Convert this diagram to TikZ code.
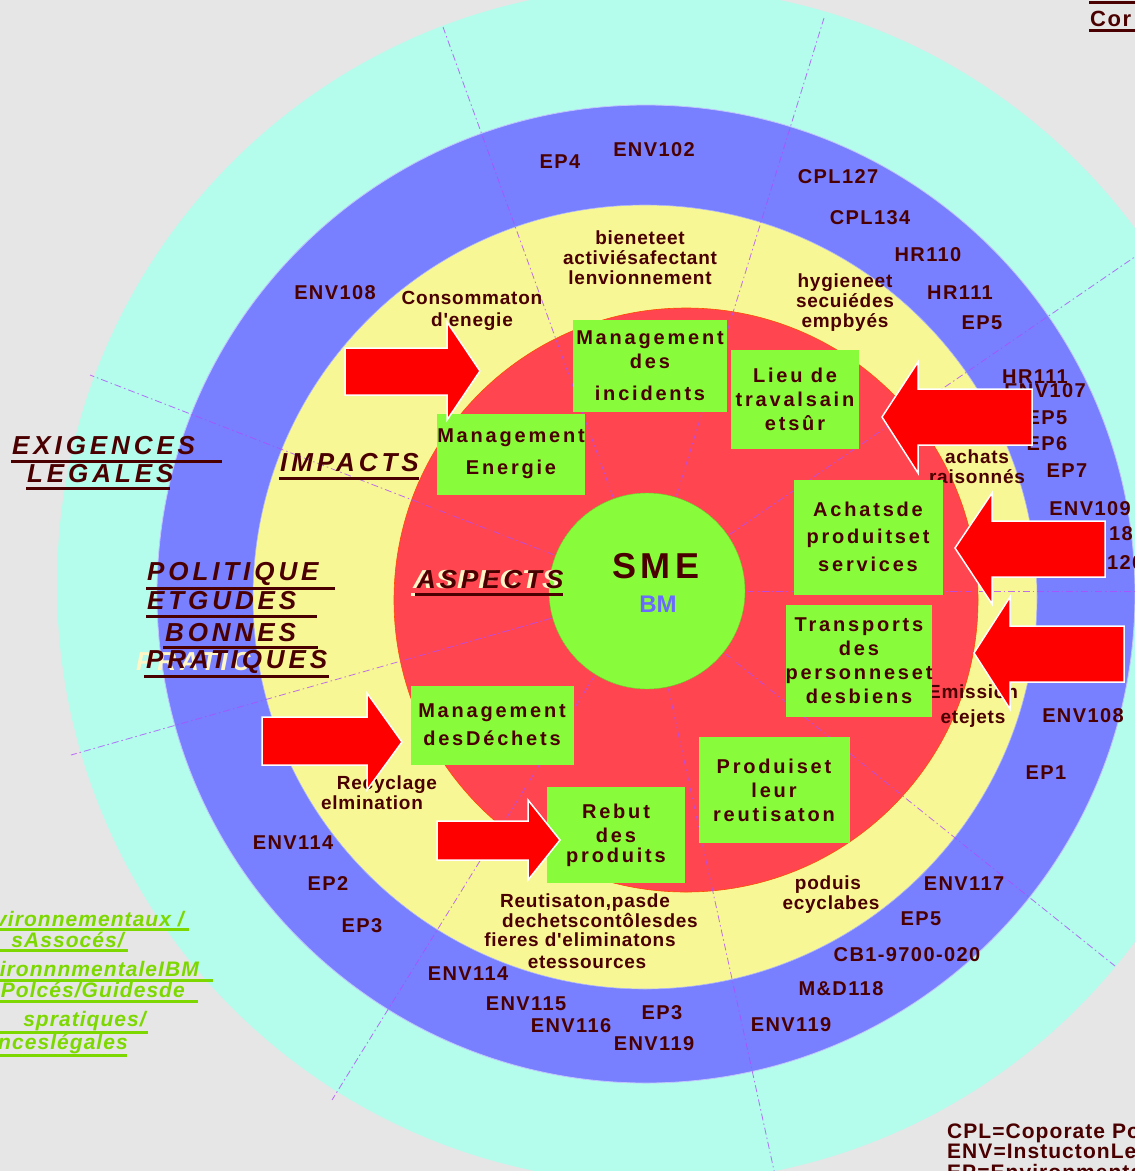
\documentclass[tikz,border=0pt]{standalone}
\usepackage{fontspec}
\setmainfont{Liberation Sans}
\newfontfamily\gbfont[LetterSpace=14]{Liberation Sans}
\newfontfamily\ttlfont[LetterSpace=15]{Liberation Sans}
\newfontfamily\lgfont[LetterSpace=5]{Liberation Sans}
\newfontfamily\lblfont[LetterSpace=7]{Liberation Sans}
\newfontfamily\smefont[LetterSpace=12]{Liberation Sans}
\newfontfamily\ytfont[LetterSpace=4]{Liberation Sans}
\usetikzlibrary{calc}
\definecolor{bgc}{HTML}{E6E6E6}
\definecolor{cyanr}{HTML}{B4FCEB}
\definecolor{bluer}{HTML}{7880FF}
\definecolor{yellr}{HTML}{F7F795}
\definecolor{redr}{HTML}{FF4650}
\definecolor{grn}{HTML}{88FC3A}
\definecolor{maroon}{HTML}{4A0000}
\definecolor{bmblue}{HTML}{6A6AFF}
\definecolor{lgrn}{HTML}{7CD800}
\definecolor{radc}{HTML}{B04CFF}
\definecolor{arr}{HTML}{FF0000}
\definecolor{cream}{HTML}{FFF6C8}
\tikzset{
 lbl/.style={font=\lblfont\bfseries\fontsize{20}{22}\selectfont, text=maroon, inner sep=0pt},
 ytx/.style={font=\ytfont\bfseries\fontsize{19}{20}\selectfont, text=maroon, inner sep=0pt, align=center},
 gbox/.style={fill=grn, draw=none, text=maroon, align=center, inner sep=0pt, font=\gbfont\bfseries\fontsize{20}{24}\selectfont},
 ttl/.style={font=\ttlfont\bfseries\itshape\fontsize{26}{28}\selectfont, text=maroon, inner sep=0pt, anchor=west},
 uline/.style={maroon, line width=3pt},
 blk/.style={fill=arr, draw=white, line width=1.5pt, line join=miter},
 radl/.style={radc, line width=0.8pt, dash pattern=on 7pt off 3pt on 1.5pt off 3pt, opacity=0.8},
 lgt/.style={font=\lgfont\bfseries\itshape\fontsize{21}{22}\selectfont, text=lgrn, inner sep=0pt, anchor=east},
 lgl/.style={lgrn, line width=3pt},
 leg/.style={font=\lgfont\bfseries\fontsize{21}{22}\selectfont, text=maroon, inner sep=0pt, anchor=west},
}
\begin{document}
\begin{tikzpicture}[x=1pt,y=-1pt]
\useasboundingbox (0,0) rectangle (1135,1171);
\clip (0,0) rectangle (1135,1171);
\fill[bgc] (0,0) rectangle (1135,1171);
% rings
\fill[cyanr] (655,585) circle[radius=598];
\filldraw[fill=bluer, draw=white!55!bluer, line width=0.8pt] (646,594) circle[radius=489];
\filldraw[fill=yellr, draw=white!40!bluer, line width=0.6pt] (645,597) circle[radius=392];
\filldraw[fill=redr, draw=orange!60!red, line width=0.6pt] (686,600) circle[radius=292];
% radial dividers
\coordinate (c) at (647,591);
\foreach \px/\py in {443/27,824/18,1142/252,1140/591,1115/966,775/1175,332/1100,71/755,90/375}
  \draw[radl] ($(c)!100pt!(\px,\py)$) -- (\px,\py);
% centre
\node[circle, fill=grn, draw=grn!80!black, line width=0.4pt, minimum size=196pt, inner sep=0pt] (sme) at (647,591) {};
\node[font=\smefont\bfseries\fontsize{36}{38}\selectfont, text=maroon, inner sep=0pt] (smet) at (656,566) {SME};
\node[font=\bfseries\fontsize{24}{26}\selectfont, text=bmblue, inner sep=0pt] (bm) at (658,604) {BM};

% blue ring labels
\node[lbl] (l1) at (560,162) {EP4};
\node[lbl] (l2) at (654,150) {ENV102};
\node[lbl] (l3) at (838,177) {CPL127};
\node[lbl] (l4) at (870,218) {CPL134};
\node[lbl] (l5) at (928,255) {HR110};
\node[lbl] (l6) at (960,293) {HR111};
\node[lbl] (l7) at (982,323) {EP5};
\node[lbl] (l8) at (1035,377) {HR111};
\node[lbl] (l9) at (1045,391) {ENV107};
\node[lbl] (l10) at (1047,418) {EP5};
\node[lbl] (l11) at (1047,444) {EP6};
\node[lbl] (l12) at (1067,471) {EP7};
\node[lbl] (l13) at (1090,509) {ENV109};
\node[lbl, anchor=west] (l14) at (1109,534) {18};
\node[lbl, anchor=west] (l15) at (1107,563) {120};
\node[lbl] (l16) at (1083,716) {ENV108};
\node[lbl] (l17) at (1046,773) {EP1};
\node[lbl] (l18) at (964,884) {ENV117};
\node[lbl] (l19) at (921,919) {EP5};
\node[lbl] (l20) at (907,955) {CB1-9700-020};
\node[lbl] (l21) at (841,989) {M\&D118};
\node[lbl] (l22) at (791,1025) {ENV119};
\node[lbl] (l23) at (662,1013) {EP3};
\node[lbl] (l24) at (654,1044) {ENV119};
\node[lbl] (l25) at (571,1026) {ENV116};
\node[lbl] (l26) at (526,1004) {ENV115};
\node[lbl] (l27) at (468,974) {ENV114};
\node[lbl] (l28) at (362,926) {EP3};
\node[lbl] (l29) at (328,884) {EP2};
\node[lbl] (l30) at (293,843) {ENV114};
\node[lbl] (l31) at (335,293) {ENV108};

% yellow ring texts
\node[ytx] (y1) at (640,258) {bieneteet\\activiésafectant\\lenvionnement};
\node[ytx] (y2) at (472,311) {Consommaton\\[2pt]d'enegie};
\node[ytx] (y3) at (845,303) {hygieneet\\secuiédes\\empbyés};
\node[ytx] (y4) at (977,467) {achats\\raisonnés};
\node[ytx] (y5) at (973,706) {Emission\\[5pt]etejets};
\node[ytx] (y6) at (387,785) {Recyclage};
\node[ytx] (y7) at (372,803) {elmination};
\node[ytx] (y8) at (585,903) {Reutisaton,pasde};
\node[ytx] (y9) at (600,920) {dechetscontôlesdes};
\node[ytx] (y10) at (580,940) {fieres d'eliminatons};
\node[ytx] (y11) at (587,962) {etessources};
\node[ytx] (y12) at (828,885) {poduis};
\node[ytx] (y13) at (831,905) {ecyclabes};

% green boxes
\node[gbox, minimum width=154pt, minimum height=92pt] (b1) at (650,366) {Management\\des\\[8pt]incidents};
\node[gbox, minimum width=128pt, minimum height=99pt] (b2) at (795,399) {Lieu de\\travalsain\\etsûr};
\node[gbox, minimum width=140pt, minimum height=81pt] (b3) at (511,454) {Management\\[8pt]Energie};
\node[gbox, minimum width=149pt, minimum height=115pt] (b4) at (868,537) {Achatsde\\[3pt]produitset\\[4pt]services};
\node[gbox, minimum width=128pt, minimum height=112pt] (b5) at (859,661) {Transports\\des\\personneset\\desbiens};
\node[gbox, minimum width=163pt, minimum height=79pt] (b6) at (492,725) {Management\\[4pt]desDéchets};
\node[gbox, minimum width=138pt, minimum height=96pt] (b7) at (616,835) {Rebut\\des\\[-4pt]produits};
\node[gbox, minimum width=151pt, minimum height=106pt] (b8) at (774,790) {Produiset\\leur\\reutisaton};

% block arrows
\draw[blk] (345,348) -- (447,348) -- (447,322) -- (480,371) -- (447,420) -- (447,395) -- (345,395) -- cycle;
\draw[blk] (882,417) -- (918,362) -- (918,389) -- (1032,389) -- (1032,445) -- (918,445) -- (918,473) -- cycle;
\draw[blk] (955,548) -- (992,493) -- (992,521) -- (1105,521) -- (1105,577) -- (992,577) -- (992,604) -- cycle;
\draw[blk] (974,653) -- (1010,597) -- (1010,626) -- (1124,626) -- (1124,682) -- (1010,682) -- (1010,709) -- cycle;
\draw[blk] (262,717) -- (367,717) -- (367,693) -- (402,742) -- (367,790) -- (367,765) -- (262,765) -- cycle;
\draw[blk] (437,821) -- (528,821) -- (528,800) -- (560,840) -- (528,880) -- (528,860) -- (437,860) -- cycle;

% italic titles
\node[ttl] (t1) at (12,446) {EXIGENCES};
\draw[uline] (11,461) -- (222,461);
\node[ttl] (t2) at (27,474) {LEGALES};
\draw[uline] (26,488) -- (170,488);
\node[ttl] (t3) at (280,463) {IMPACTS};
\draw[uline] (279,478) -- (419,478);
\node[ttl, text=cream] (t4s) at (413,580) {ASPECTS};
\draw[cream, line width=3pt] (411,594) -- (558,594);
\node[ttl] (t4) at (417,580) {ASPECTS};
\draw[uline] (415,594) -- (563,594);
\node[ttl] (t5) at (147,574) {POLITIQUE};
\draw[uline] (146,588) -- (335,588);
\node[ttl] (t6) at (147,601) {ETGUDES};
\draw[uline] (146,616) -- (317,616);
\node[ttl] (t7) at (165,633) {BONNES};
\draw[uline] (163,647) -- (318,647);
\node[ttl, text=cream] (t8s) at (136,662) {PRATIC};
\node[ttl] (t8) at (146,662) {PRATIQUES};
\draw[uline] (144,676) -- (329,676);

% green legend (cut at left)
\node[lgt] (g1) at (184,919) {vironnementaux /};
\draw[lgl] (0,929) -- (189,929);
\node[lgt] (g2) at (124,940) {sAssocés/};
\draw[lgl] (0,950) -- (128,950);
\node[lgt] (g3) at (199,969) {ironnnmentaleIBM};
\draw[lgl] (0,980) -- (213,980);
\node[lgt] (g4) at (185,990) {Polcés/Guidesde};
\draw[lgl] (0,1001) -- (198,1001);
\node[lgt] (g5) at (146,1021) {spratiques/};
\draw[lgl] (0,1032) -- (148,1032);
\node[lgt] (g6) at (128,1044) {nceslégales};
\draw[lgl] (0,1055) -- (127,1055);

% legend bottom right
\node[leg] (e1) at (947,1133) {CPL=Coporate Pol};
\node[leg] (e2) at (947,1151) {ENV=InstuctonLet};
\node[leg] (e3) at (947,1172) {EP=EnvironmentalP};

% top right
\draw[uline] (1089,2) -- (1135,2);
\node[font=\lblfont\bfseries\fontsize{22}{24}\selectfont, text=maroon, inner sep=0pt, anchor=west] (cor) at (1090,19) {Cor};
\draw[uline] (1089,30) -- (1135,30);
\end{tikzpicture}
\end{document}
